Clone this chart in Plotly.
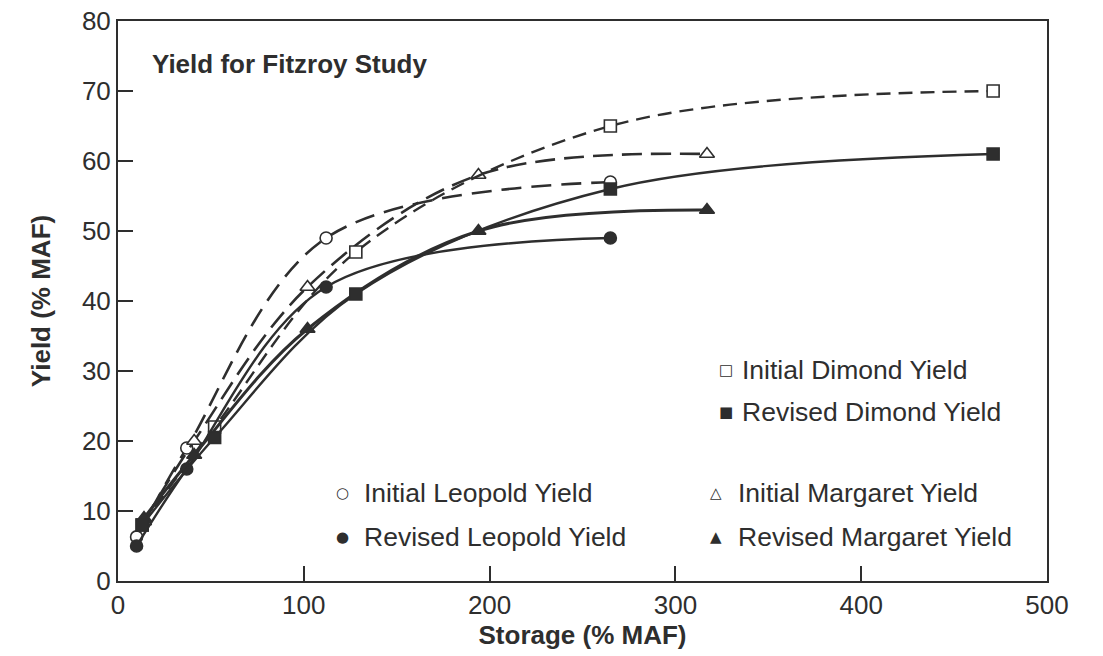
import plotly.graph_objects as go

# Data
leo_x = [10, 37, 112, 265]
leo_init = [6.3, 19, 49, 57]
leo_rev = [5, 16, 42, 49]

mar_x = [14, 41, 102, 194, 317]
mar_init = [8.5, 20, 42, 58, 61]
mar_rev = [9, 18, 36, 50, 53]

dim_x = [13, 52, 128, 265, 471]
dim_init = [8, 22, 47, 65, 70]
dim_rev = [8, 20.5, 41, 56, 61]

x_ticks = [0, 100, 200, 300, 400, 500]
y_ticks = [0, 10, 20, 30, 40, 50, 60, 70, 80]

INK = "#2e2e2e"
FONT = "Liberation Sans, Arial, sans-serif"

fig = go.Figure()

def add(x, y, symbol, filled, dash, width):
    fig.add_trace(go.Scatter(
        x=x, y=y, mode="lines+markers",
        line=dict(color=INK, width=width, dash=dash, shape="spline", smoothing=1.0),
        marker=dict(symbol=symbol, size=12 if symbol != "triangle-up" else 13,
                    color=INK if filled else "white",
                    line=dict(color=INK, width=1.6)),
        showlegend=False, cliponaxis=False))

add(leo_x, leo_init, "circle", False, "20px,10px", 2.6)
add(mar_x, mar_init, "triangle-up", False, "20px,9px", 2.6)
add(dim_x, dim_init, "square", False, "14px,8px", 2.4)
add(leo_x, leo_rev, "circle", True, "solid", 2.4)
add(mar_x, mar_rev, "triangle-up", True, "solid", 3.0)
add(dim_x, dim_rev, "square", True, "solid", 2.4)

# Legend entries: (symbol, label, symbol x (paper), text x (paper), y value)
legend_items = [
    ("□", "Initial Dimond Yield", 0.6545, 0.6695, 30.1),
    ("■", "Revised Dimond Yield", 0.6545, 0.6695, 24.1),
    ("○", "Initial Leopold Yield", 0.242, 0.2627, 12.6),
    ("●", "Revised Leopold Yield", 0.242, 0.2627, 6.3),
    ("△", "Initial Margaret Yield", 0.6437, 0.665, 12.6),
    ("▲", "Revised Margaret Yield", 0.6437, 0.665, 6.3),
]
for sym, text, xs, xt, yv in legend_items:
    fig.add_annotation(x=xs, xref="paper", y=yv, yref="y", text=sym,
                       showarrow=False, xanchor="center", yanchor="middle",
                       font=dict(family="DejaVu Sans", size=15, color=INK))
    fig.add_annotation(x=xt, xref="paper", y=yv, yref="y", text=text,
                       showarrow=False, xanchor="left", yanchor="middle",
                       font=dict(family=FONT, size=26.5, color=INK))

fig.add_annotation(x=0.034, xref="paper", y=73.9, yref="y",
                   text="<b>Yield for Fitzroy Study</b>", showarrow=False,
                   xanchor="left", yanchor="middle",
                   font=dict(family=FONT, size=26, color=INK))

fig.update_layout(
    width=1103, height=656,
    margin=dict(l=118, r=56, t=21, b=75, autoexpand=False),
    plot_bgcolor="white", paper_bgcolor="white",
    font=dict(family=FONT, size=26, color=INK),
    xaxis=dict(range=[0, 500], tickvals=x_ticks, ticks="inside", ticklen=15,
               tickwidth=2, tickcolor=INK, showline=True, linecolor=INK,
               linewidth=2, mirror=True, showgrid=False, zeroline=False,
               automargin=False,
               title=dict(text="<b>Storage (% MAF)</b>", font=dict(size=26), standoff=2),
               tickfont=dict(size=26)),
    yaxis=dict(range=[0, 80], tickvals=y_ticks, ticks="inside", ticklen=15,
               tickwidth=2, tickcolor=INK, showline=True, linecolor=INK,
               linewidth=2, mirror=True, showgrid=False, zeroline=False,
               automargin=False,
               title=dict(text="<b>Yield (% MAF)</b>", font=dict(size=26), standoff=24),
               tickfont=dict(size=26)),
)

fig.write_html("out.html")
